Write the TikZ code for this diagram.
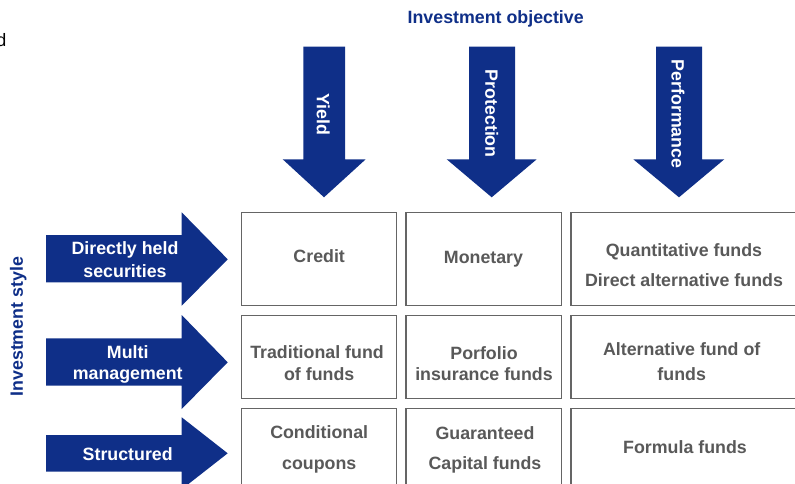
\documentclass[tikz,border=0pt]{standalone}
\usepackage{fontspec}
\setmainfont{Liberation Sans}
\definecolor{objblue}{HTML}{0F2F88}
\definecolor{txtgray}{HTML}{595959}
\definecolor{cellgray}{HTML}{656565}
\begin{document}
\begin{tikzpicture}[x=1pt,y=-1pt,
  bluearrow/.style={fill=objblue,draw=none},
  cell/.style={draw=cellgray,line width=1.5pt,fill=white,inner sep=0},
  bigfont/.style={font=\bfseries\fontsize{17.8}{21}\selectfont},
  wtxt/.style={bigfont,text=white,anchor=base,inner sep=0},
  gtxt/.style={bigfont,text=txtgray,anchor=base,inner sep=0},
  btxt/.style={bigfont,text=objblue,inner sep=0},
  vtxt/.style={bigfont,text=white,inner sep=0}
]
\useasboundingbox (0,0) rectangle (795,484);
\clip (0,0) rectangle (795,484);

% stray clipped text
\node[font=\fontsize{18}{21}\selectfont,anchor=base east,inner sep=0] (frag) at (6.5,46.5) {d};

% title
\node[btxt] (objtitle) at (495.7,19.3) {Investment objective};
\node[btxt,rotate=90] (styletitle) at (18.3,326.7) {Investment style};

% top arrows
\fill[bluearrow] (303.3,46.7) -- (345,46.7) -- (345,159.3) -- (365.7,159.3) -- (324,197.3) -- (282.7,159.3) -- (303.3,159.3) -- cycle;
\fill[bluearrow] (469,46.7) -- (515,46.7) -- (515,159.3) -- (536.7,159.3) -- (491.7,197.3) -- (446.7,159.3) -- (469,159.3) -- cycle;
\fill[bluearrow] (656,46.7) -- (702,46.7) -- (702,159.3) -- (724.3,159.3) -- (679,197.3) -- (633.3,159.3) -- (656,159.3) -- cycle;
\node[vtxt,rotate=-90] (yield) at (323.3,114) {Yield};
\node[vtxt,rotate=-90] (protection) at (491.7,113.7) {Protection};
\node[vtxt,rotate=-90] (performance) at (678,114) {Performance};

% left arrows
\fill[bluearrow] (46,235) -- (181.7,235) -- (181.7,212.3) -- (227.7,259.3) -- (181.7,305.7) -- (181.7,282.3) -- (46,282.3) -- cycle;
\fill[bluearrow] (46,338.3) -- (181.7,338.3) -- (181.7,315) -- (227.7,362.3) -- (181.7,409) -- (181.7,385.7) -- (46,385.7) -- cycle;
\fill[bluearrow] (46,435) -- (181.7,435) -- (181.7,417.3) -- (227.7,453.3) -- (181.7,489.3) -- (181.7,471.7) -- (46,471.7) -- cycle;
\node[wtxt] (direct1) at (125,254.7) {Directly held};
\node[wtxt] (direct2) at (125,277) {securities};
\node[wtxt] (multi1) at (127.7,358) {Multi};
\node[wtxt] (multi2) at (127.7,379.7) {management};
\node[wtxt] (struct) at (127.7,460.4) {Structured};

% cells
\node[cell,minimum width=155,minimum height=93.4] (c11) at (319.2,259) {};
\node[cell,minimum width=155.7,minimum height=93.4] (c12) at (483.85,259) {};
\node[cell,minimum width=226,minimum height=93.4] (c13) at (684,259) {};
\node[cell,minimum width=155,minimum height=82.6] (c21) at (319.2,357) {};
\node[cell,minimum width=155.7,minimum height=82.6] (c22) at (483.85,357) {};
\node[cell,minimum width=226,minimum height=82.6] (c23) at (684,357) {};
\node[cell,minimum width=155,minimum height=91.7] (c31) at (319.2,454.15) {};
\node[cell,minimum width=155.7,minimum height=91.7] (c32) at (483.85,454.15) {};
\node[cell,minimum width=226,minimum height=91.7] (c33) at (684,454.15) {};

% cell texts
\node[gtxt] (t11) at (319.2,262.4) {Credit};
\node[gtxt] (t12) at (483.5,263) {Monetary};
\node[gtxt] (t13a) at (684,256.4) {Quantitative funds};
\node[gtxt] (t13b) at (684,286.4) {Direct alternative funds};
\node[gtxt] (t21a) at (317,358) {Traditional fund};
\node[gtxt] (t21b) at (319.2,380.7) {of funds};
\node[gtxt] (t22a) at (484,359.7) {Porfolio};
\node[gtxt] (t22b) at (484,380.7) {insurance funds};
\node[gtxt] (t23a) at (681.7,355.4) {Alternative fund of};
\node[gtxt] (t23b) at (681.7,380.7) {funds};
\node[gtxt] (t31a) at (319.2,438.7) {Conditional};
\node[gtxt] (t31b) at (319.2,469.7) {coupons};
\node[gtxt] (t32a) at (485,439.7) {Guaranteed};
\node[gtxt] (t32b) at (485,469.7) {Capital funds};
\node[gtxt] (t33) at (685,453) {Formula funds};
\end{tikzpicture}
\end{document}
